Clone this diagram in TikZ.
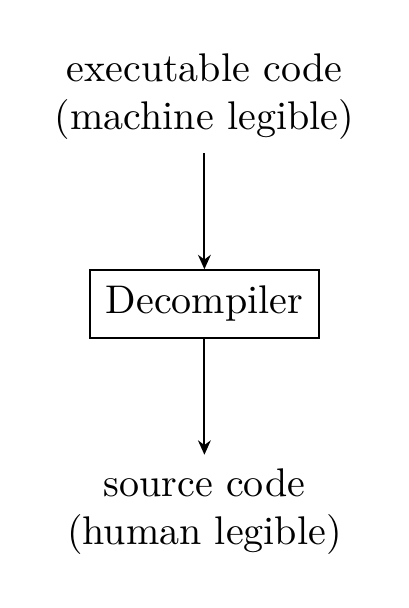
\documentclass[tikz,border=0pt]{standalone}
\usepackage{tikz}
\usetikzlibrary{arrows.meta,positioning}
\tikzset{
  toolbox/.style={
    rectangle,
    draw=black,
    line width=0.5pt,
    align=center,
    inner sep=4pt
  },
  codetext/.style={
    align=center
  },
  flowline/.style={-{Stealth[length=3.6pt,width=3.2pt]},line width=0.5pt}
}
\begin{document}
\begin{tikzpicture}[node distance=29pt]
  \useasboundingbox (-51.1pt,-76pt) rectangle (51.1pt,76pt);
  \node[toolbox] (decomp) at (0,0) {Decompiler};
  \node[codetext, above=of decomp] (exec) {executable code\\(machine legible)};
  \node[codetext, below=of decomp] (src) {source code\\(human legible)};
  \draw[flowline] (exec) -- (decomp);
  \draw[flowline] (decomp) -- (src);
\end{tikzpicture}
\end{document}
